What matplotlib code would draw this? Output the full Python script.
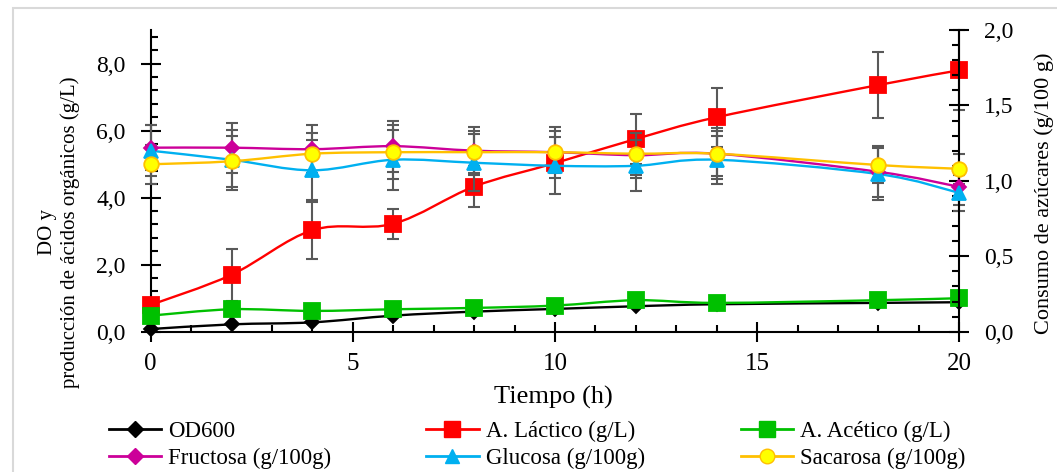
import matplotlib
matplotlib.use("Agg")
import matplotlib.pyplot as plt
from matplotlib.path import Path
from matplotlib.patches import PathPatch, Rectangle
from matplotlib.lines import Line2D
from matplotlib.ticker import MultipleLocator, FuncFormatter

# data
tiempo = [0, 2, 4, 6, 8, 10, 12, 14, 18, 20]

od600 = [0.08, 0.22, 0.28, 0.48, 0.60, 0.68, 0.76, 0.82, 0.86, 0.88]
lactico = [0.80, 1.70, 3.03, 3.22, 4.33, 5.03, 5.75, 6.40, 7.36, 7.80]
lactico_err = [0.10, 0.77, 0.85, 0.45, 0.60, 0.20, 0.75, 0.88, 0.97, 1.20]
acetico = [0.48, 0.67, 0.62, 0.67, 0.71, 0.78, 0.94, 0.86, 0.94, 1.00]

fructosa = [1.22, 1.22, 1.21, 1.23, 1.20, 1.19, 1.17, 1.18, 1.06, 0.96]
fructosa_err = [0.15, 0.165, 0.16, 0.17, 0.16, 0.17, 0.15, 0.17, 0.17, 0.12]
glucosa = [1.20, 1.14, 1.07, 1.14, 1.12, 1.10, 1.10, 1.14, 1.045, 0.92]
glucosa_err = [0.17, 0.20, 0.20, 0.20, 0.19, 0.19, 0.17, 0.16, 0.17, 0.12]
sacarosa = [1.11, 1.13, 1.18, 1.19, 1.19, 1.19, 1.18, 1.18, 1.105, 1.08]
sacarosa_err = [0.13, 0.17, 0.14, 0.18, 0.14, 0.14, 0.14, 0.15, 0.12, 0.10]

plt.rcParams["font.family"] = ["Liberation Serif", "DejaVu Serif"]

ERR_COLOR = "#595959"


def smooth_path(x, y):
    # Excel style smoothed line (Catmull-Rom as cubic bezier)
    n = len(x)
    verts = [(x[0], y[0])]
    codes = [Path.MOVETO]
    for i in range(n - 1):
        a = max(i - 1, 0)
        d = min(i + 2, n - 1)
        c1 = (x[i] + (x[i + 1] - x[a]) / 6, y[i] + (y[i + 1] - y[a]) / 6)
        c2 = (x[i + 1] - (x[d] - x[i]) / 6, y[i + 1] - (y[d] - y[i]) / 6)
        verts += [c1, c2, (x[i + 1], y[i + 1])]
        codes += [Path.CURVE4] * 3
    return Path(verts, codes)


def draw_series(ax, y, err, color, marker, ms, mfc, mec):
    if err is not None:
        ax.errorbar(tiempo, y, yerr=err, fmt="none", ecolor=ERR_COLOR,
                    elinewidth=1.5, capsize=4.5, capthick=1.5, zorder=2,
                    clip_on=False)
    ax.add_patch(PathPatch(smooth_path(tiempo, y), fill=False, edgecolor=color,
                           lw=1.7, zorder=3, clip_on=False))
    ax.plot(tiempo, y, linestyle="none", marker=marker, ms=ms, mfc=mfc,
            mec=mec, mew=1.3, zorder=4, clip_on=False)


def comma(v, pos):
    return f"{v:.1f}".replace(".", ",")


fig = plt.figure(figsize=(10.57, 4.72), dpi=100)
ax = fig.add_axes([0.1426, 0.2972, 0.765, 0.6392])
ax2 = ax.twinx()

draw_series(ax, od600, None, "black", "D", 7.5, "black", "black")
draw_series(ax, lactico, lactico_err, "#FF0000", "s", 11, "#FF0000", "#FF0000")
draw_series(ax, acetico, None, "#00C000", "s", 11, "#00C000", "#00C000")

draw_series(ax2, fructosa, fructosa_err, "#CC0099", "D", 7.5, "#CC0099", "#CC0099")
draw_series(ax2, glucosa, glucosa_err, "#00B0F0", "^", 10, "#00B0F0", "#00B0F0")
draw_series(ax2, sacarosa, sacarosa_err, "#FFC000", "o", 10.5, "#FFFF00", "#FFC000")

ax.set_xlim(0, 20)
ax.set_ylim(0, 9)
ax2.set_ylim(0, 2)

ax.xaxis.set_major_locator(MultipleLocator(5))
ax.xaxis.set_minor_locator(MultipleLocator(1))
ax.yaxis.set_major_locator(MultipleLocator(2))
ax.yaxis.set_minor_locator(MultipleLocator(0.4))
ax.yaxis.set_major_formatter(FuncFormatter(comma))
ax2.yaxis.set_major_locator(MultipleLocator(0.5))
ax2.yaxis.set_minor_locator(MultipleLocator(0.1))
ax2.yaxis.set_major_formatter(FuncFormatter(comma))

for a in (ax, ax2):
    a.tick_params(which="major", direction="inout", length=14, width=1.5,
                  labelsize=17, pad=11)
    a.tick_params(which="minor", direction="in", length=5, width=1.5)
ax.tick_params(axis="x", which="major", labelsize=18, pad=8)

ax.spines["top"].set_visible(False)
ax.spines["right"].set_visible(False)
ax2.spines["top"].set_visible(False)
ax2.spines["left"].set_visible(False)
ax2.spines["bottom"].set_visible(False)
for s in ("left", "bottom"):
    ax.spines[s].set_linewidth(1.5)
ax2.spines["right"].set_linewidth(1.5)

fig.text(0.5237, 1 - 397 / 472, "Tiempo (h)", ha="center", va="center",
         fontsize=19)
fig.text(0.056, 0.508, "DO y\nproducción de ácidos orgánicos (g/L)",
         rotation=90, ha="center", va="center", multialignment="center",
         fontsize=15)
fig.text(1044 / 1057, 1 - 193 / 472, "Consumo de azúcares (g/100 g)",
         rotation=90, ha="center", va="center", fontsize=16)

# legend, three columns at fixed positions
def handle(color, marker, ms, mfc, mec):
    return Line2D([], [], color=color, lw=2, marker=marker, ms=ms, mfc=mfc,
                  mec=mec)

columns = [
    (108.7, [handle("black", "D", 8.5, "black", "black"),
             handle("#CC0099", "D", 8.5, "#CC0099", "#CC0099")],
     ["OD600", "Fructosa (g/100g)"]),
    (426, [handle("#FF0000", "s", 11, "#FF0000", "#FF0000"),
           handle("#00B0F0", "^", 10, "#00B0F0", "#00B0F0")],
     ["A. Láctico (g/L)", "Glucosa (g/100g)"]),
    (740.6, [handle("#00C000", "s", 11, "#00C000", "#00C000"),
             handle("#FFC000", "o", 10.5, "#FFFF00", "#FFC000")],
     ["A. Acético (g/L)", "Sacarosa (g/100g)"]),
]
for xpix, hs, labels in columns:
    fig.legend(hs, labels, loc="center left",
               bbox_to_anchor=(xpix / 1057, 1 - 445 / 472), frameon=False,
               fontsize=16.5, handlelength=2.3, handletextpad=0.3,
               labelspacing=0.25, borderpad=0, borderaxespad=0)

# light grey chart border
fig.patches.append(Rectangle((13 / 1057, -0.1), 1.2, 1.1 - 8 / 472,
                             transform=fig.transFigure, fill=False,
                             edgecolor="#D9D9D9", lw=1.5))

fig.savefig("out.png", dpi=100)
